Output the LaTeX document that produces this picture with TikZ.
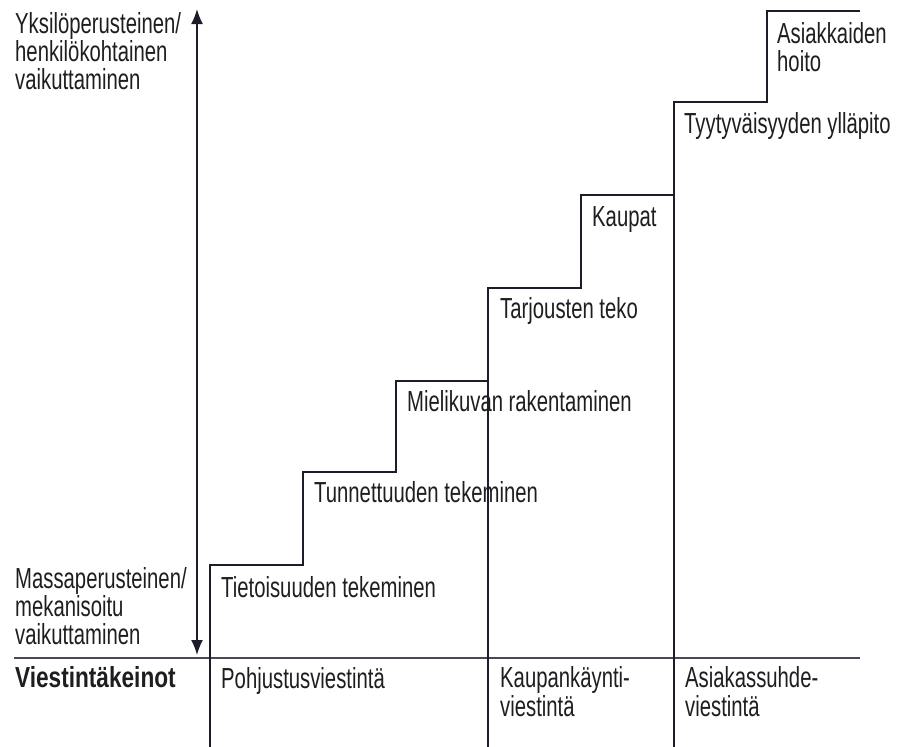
\documentclass[tikz,border=0pt]{standalone}
\usepackage{fontspec}
\setmainfont{Liberation Sans}[FakeStretch=0.70]
\newfontfamily\boldlab{Liberation Sans}[FakeStretch=0.78]
\usetikzlibrary{arrows.meta}
\definecolor{ink}{HTML}{1C1C2A}
\definecolor{txt}{HTML}{1E1E1E}
\tikzset{
  lab/.style={anchor=base west, inner sep=0pt, font=\fontsize{29}{32}\selectfont, text=txt},
  boldtxt/.style={lab, font=\fontsize{29}{32}\selectfont\boldlab\bfseries},
  stair/.style={draw=ink, line width=1.7pt, line join=miter},
  rule/.style={draw=ink!80, line width=1.6pt},
  axis/.style={draw=ink, line width=1.7pt, {Latex[length=15pt,width=12pt]}-{Latex[length=15pt,width=12pt]}}
}
\begin{document}
\begin{tikzpicture}[x=1pt,y=-1pt]
\useasboundingbox (0,0) rectangle (898,747);
% coordinates
\coordinate (axTop) at (197,9);
\coordinate (axBot) at (197,655);
\coordinate (hL) at (14,658);
\coordinate (hR) at (860,658);
% horizontal rule
\draw[rule] (hL) -- (hR);
% axis
\draw[axis] (axBot) -- (axTop);
% staircase
\draw[stair] (210,747) -- (210,565) -- (303,565) -- (303,472) -- (396,472) -- (396,381)
  -- (488,381) -- (488,288) -- (581,288) -- (581,195) -- (674,195) -- (674,102)
  -- (767,102) -- (767,11) -- (860,11);
% column dividers
\draw[stair] (488,381) -- (488,747);
\draw[stair] (674,195) -- (674,747);
% axis labels
\node[lab] (y1) at (15,33) {Yksilöperusteinen/};
\node[lab] (y2) at (15,61) {henkilökohtainen};
\node[lab] (y3) at (15,89) {vaikuttaminen};
\node[lab] (m1) at (15,588) {Massaperusteinen/};
\node[lab] (m2) at (15,616) {mekanisoitu};
\node[lab] (m3) at (15,644) {vaikuttaminen};
\node[boldtxt] (vk) at (15,687) {Viestintäkeinot};
% step labels
\node[lab] (s1) at (221,597) {Tietoisuuden tekeminen};
\node[lab] (s2) at (314,502) {Tunnettuuden tekeminen};
\node[lab] (s3) at (407,411) {Mielikuvan rakentaminen};
\node[lab] (s4) at (500,318) {Tarjousten teko};
\node[lab] (s5) at (592,226) {Kaupat};
\node[lab] (s6) at (684,133) {Tyytyväisyyden ylläpito};
\node[lab] (s7a) at (777,43) {Asiakkaiden};
\node[lab] (s7b) at (777,71) {hoito};
% column labels
\node[lab] (c1) at (221,688) {Pohjustusviestintä};
\node[lab] (c2a) at (500,687) {Kaupankäynti-};
\node[lab] (c2b) at (500,716) {viestintä};
\node[lab] (c3a) at (685,687) {Asiakassuhde-};
\node[lab] (c3b) at (685,716) {viestintä};
\end{tikzpicture}
\end{document}
